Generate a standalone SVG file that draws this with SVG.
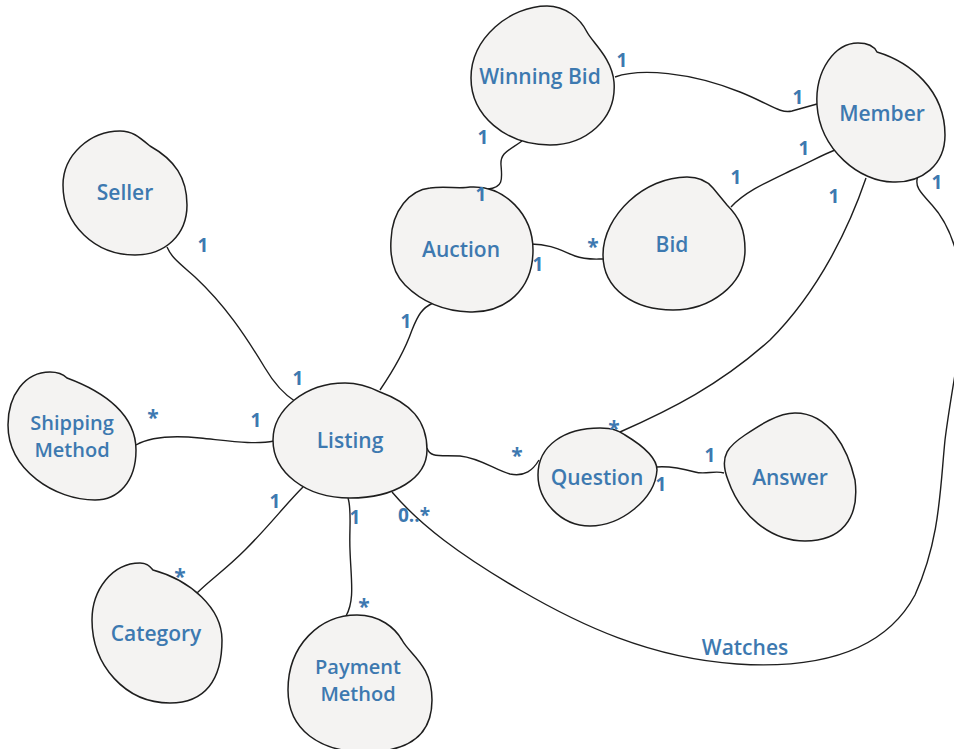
<svg xmlns="http://www.w3.org/2000/svg" width="954" height="749" viewBox="0 0 954 749">
<style>
.node path{fill:#f4f3f2;stroke:#1e1e1e;stroke-width:1.5}
.lbl{font-family:"Open Sans",Lato,"Liberation Sans",sans-serif;font-weight:600;font-size:21px;fill:#3d79b0;text-anchor:middle}
.two{font-size:20px}
.m{font-family:"Open Sans",Lato,"Liberation Sans",sans-serif;font-weight:700;font-size:19px;fill:#3d79b0;text-anchor:middle}
.s{font-size:21px}
#connectors path{fill:none;stroke:#1e1e1e;stroke-width:1.4}
</style>
<rect width="954" height="749" fill="#ffffff"/>
<g id="connectors">
<path d="M615,77 C640,68 690,72 740,92 C770,104 780,114 792,111 L817,104"/>
<path d="M522,141 C510,150 500,152 501,165 C502,178 504,188 488,189"/>
<path d="M531,244 C550,244 560,250 575,256 C585,260 595,259 603,259"/>
<path d="M731,207 C745,192 765,183 790,171 C810,162 822,155 835,150"/>
<path d="M866,178 C850,225 820,290 770,340 C720,385 670,410 620,432"/>
<path d="M918,176 C914,186 920,192 932,205 C955,230 968,280 962,330 C958,360 950,400 945,440 C940,490 940,540 915,595 C880,660 800,668 737,664 C650,658 580,625 520,590 C460,555 420,525 392,492"/>
<path d="M167,247 C172,258 178,262 195,277 C225,305 245,335 265,368 C275,385 285,395 296,402"/>
<path d="M433,303 C422,308 418,315 412,330 C405,350 395,368 380,390"/>
<path d="M136,445 C150,437 170,435 200,438 C230,441 255,445 274,441"/>
<path d="M427,448 C430,458 440,455 460,456 C480,458 495,470 510,474 C525,477 533,470 539,460"/>
<path d="M657,467 C670,466 680,468 695,472 C705,475 715,470 724,473"/>
<path d="M303,487 C285,505 270,525 245,550 C225,570 210,580 197,593"/>
<path d="M348,498 C352,510 349,530 350,550 C351,580 355,600 346,616"/>
</g>
<g id="winning-bid" class="node">
<path d="M547,6 C565,6 580,18 587,32 C592,42 612,58 614,82 C617,120 585,145 550,145 C505,145 471,115 471,78 C471,38 510,6 547,6 Z"/>
<text class="lbl" x="540" y="84">Winning Bid</text>
</g>
<g id="member" class="node">
<path d="M858,43 C868,43 874,46 877,52 C910,62 945,90 945,135 C945,165 922,183 893,182 C860,182 820,150 817,105 C815,70 835,43 858,43 Z"/>
<text class="lbl" x="882" y="121">Member</text>
</g>
<g id="bid" class="node">
<path d="M687,177 C700,177 708,182 713,188 L727,205 C740,218 745,230 745,250 C745,285 710,310 673,310 C635,310 603,290 603,255 C603,215 645,177 687,177 Z"/>
<text class="lbl" x="672" y="252">Bid</text>
</g>
<g id="auction" class="node">
<path d="M430,188 C445,186 460,189 470,187 C505,185 533,215 533,250 C533,290 505,313 470,312 C440,311 420,300 405,285 C393,273 390,255 391,240 C392,210 410,190 430,188 Z"/>
<text class="lbl" x="461" y="257">Auction</text>
</g>
<g id="seller" class="node">
<path d="M120,131 C132,131 138,136 150,146 C175,160 187,178 187,205 C187,235 165,255 135,255 C95,255 63,225 63,185 C63,155 90,131 120,131 Z"/>
<text class="lbl" x="125" y="200">Seller</text>
</g>
<g id="shipping-method" class="node">
<path d="M50,372 C58,372 63,374 67,378 C105,392 136,415 136,450 C136,482 118,500 95,500 C55,500 8,470 8,425 C8,395 25,372 50,372 Z"/>
<text class="lbl two" x="72" y="430">Shipping</text>
<text class="lbl two" x="72" y="457">Method</text>
</g>
<g id="listing" class="node">
<path d="M345,383 C360,383 372,388 380,392 C410,403 427,420 427,450 C427,478 395,498 350,498 C305,498 273,472 273,440 C273,410 305,383 345,383 Z"/>
<text class="lbl" x="350" y="448">Listing</text>
</g>
<g id="question" class="node">
<path d="M600,428 C615,428 620,432 625,435 C645,447 657,458 657,470 C655,500 620,526 590,526 C560,526 538,500 538,475 C538,445 565,428 600,428 Z"/>
<text class="lbl" x="597" y="485">Question</text>
</g>
<g id="answer" class="node">
<path d="M795,413 C830,413 848,450 855,480 C860,520 840,541 805,541 C770,541 740,515 728,480 C718,455 730,445 745,435 C760,425 778,413 795,413 Z"/>
<text class="lbl" x="790" y="485">Answer</text>
</g>
<g id="category" class="node">
<path d="M140,563 C147,563 150,566 153,570 C190,580 222,608 222,640 C222,680 205,703 170,703 C125,703 92,665 92,620 C92,590 112,563 140,563 Z"/>
<text class="lbl" x="156" y="641">Category</text>
</g>
<g id="payment-method" class="node">
<path d="M357,615 C380,615 395,628 402,640 C410,655 432,665 432,700 C432,735 410,752 365,752 C320,752 288,730 288,690 C288,645 320,615 357,615 Z"/>
<text class="lbl two" x="358" y="674">Payment</text>
<text class="lbl two" x="358" y="701">Method</text>
</g>
<g id="multiplicities">
<text class="m" x="622" y="67">1</text>
<text class="m" x="798" y="104">1</text>
<text class="m" x="483" y="144">1</text>
<text class="m" x="481" y="201">1</text>
<text class="m" x="736" y="184">1</text>
<text class="m" x="804" y="155">1</text>
<text class="m" x="834" y="203">1</text>
<text class="m" x="937" y="189">1</text>
<text class="m s" x="593" y="254">*</text>
<text class="m" x="538" y="271">1</text>
<text class="m" x="203" y="252">1</text>
<text class="m" x="406" y="328">1</text>
<text class="m" x="298" y="385">1</text>
<text class="m s" x="153" y="425">*</text>
<text class="m" x="256" y="427">1</text>
<text class="m s" x="614" y="436">*</text>
<text class="m s" x="517" y="463">*</text>
<text class="m" x="710" y="462">1</text>
<text class="m" x="661" y="491">1</text>
<text class="m" x="275" y="508">1</text>
<text class="m" x="355" y="524">1</text>
<text class="m" x="414" y="522">0..*</text>
<text class="m s" x="180" y="584">*</text>
<text class="m s" x="364" y="614">*</text>
<text class="lbl" x="745" y="655">Watches</text>
</g>
</svg>
